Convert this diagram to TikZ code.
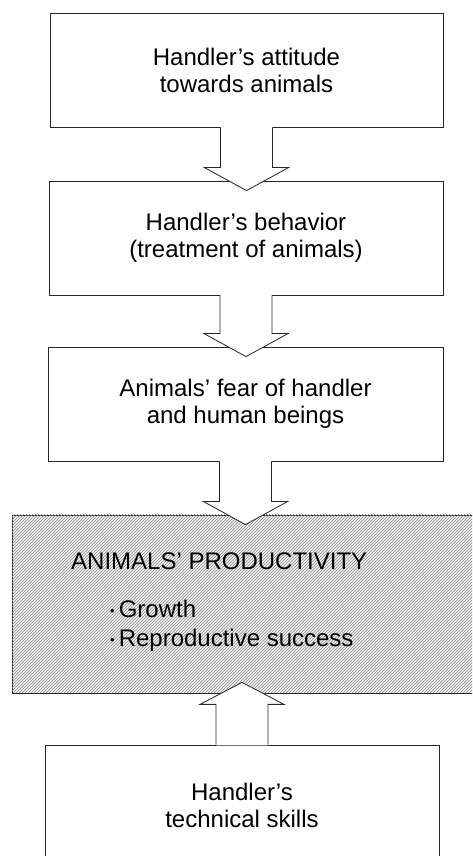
\documentclass[tikz,border=0pt]{standalone}
\usepackage{fontspec}
\setmainfont{Liberation Sans}
\usetikzlibrary{calc,patterns}
\tikzset{
  flowbox/.style={draw=black!85, line width=0.8pt, inner sep=0pt, align=center,
    minimum height=114pt, font=\fontsize{24}{27}\selectfont},
  hatchbox/.style={draw=black!85, line width=0.8pt, inner sep=0pt,
    fill=gray!12, postaction={pattern=north east lines, pattern color=black!45}},
  boxtext/.style={inner sep=0pt, anchor=base west, font=\fontsize{24}{27}\selectfont},
  arrowline/.style={draw=black!85, line width=0.8pt, line join=miter},
}
\newcommand{\smallbul}{\raisebox{2pt}{\fontsize{13}{13}\selectfont •}\hspace{4pt}}
\newcommand{\blkdown}[2]{%
  \fill[white] let \p1=(#1.south), \p2=(#2.north) in
    (\x1-26pt,\y1+0.8pt) -- (\x1-26pt,\y2+13pt) -- (\x1-42pt,\y2+13pt) -- (\x1,\y2-10pt)
    -- (\x1+42pt,\y2+13pt) -- (\x1+26pt,\y2+13pt) -- (\x1+26pt,\y1+0.8pt) -- cycle;
  \draw[arrowline] let \p1=(#1.south), \p2=(#2.north) in
    (\x1-26pt,\y1) -- (\x1-26pt,\y2+13pt) -- (\x1-42pt,\y2+13pt) -- (\x1,\y2-10pt)
    -- (\x1+42pt,\y2+13pt) -- (\x1+26pt,\y2+13pt) -- (\x1+26pt,\y1);
}
\newcommand{\blkup}[2]{%
  \fill[white] let \p1=(#1.north), \p2=(#2.south) in
    (\x1-26pt,\y1-0.8pt) -- (\x1-26pt,\y2-11pt) -- (\x1-42pt,\y2-11pt) -- (\x1,\y2+11pt)
    -- (\x1+42pt,\y2-11pt) -- (\x1+26pt,\y2-11pt) -- (\x1+26pt,\y1-0.8pt) -- cycle;
  \draw[arrowline] let \p1=(#1.north), \p2=(#2.south) in
    (\x1-26pt,\y1) -- (\x1-26pt,\y2-11pt) -- (\x1-42pt,\y2-11pt) -- (\x1,\y2+11pt)
    -- (\x1+42pt,\y2-11pt) -- (\x1+26pt,\y2-11pt) -- (\x1+26pt,\y1);
}
\begin{document}
\begin{tikzpicture}[x=1pt,y=1pt]
\useasboundingbox (0,0) rectangle (472,856);
\clip (0,0) rectangle (472,856);
\fill[white] (0,0) rectangle (472,856);

\node[flowbox, minimum width=393pt] (b1) at (246.5,786) {Handler’s attitude\\towards animals};
\node[flowbox, minimum width=394pt] (b2) at (246,618) {Handler’s behavior\\(treatment of animals)};
\node[flowbox, minimum width=395pt] (b3) at (245.5,452) {Animals’ fear of handler\\and human beings};
\node[hatchbox, minimum width=462pt, minimum height=178pt] (b4) at (243,252) {};
\node[flowbox, minimum width=394pt, minimum height=121pt] (b5) at (242,50.5) {Handler’s\\technical skills};

\node[boxtext] (t4) at (71,286) {ANIMALS’ PRODUCTIVITY};
\node[boxtext] (g4) at (110,238) {\smallbul Growth};
\node[boxtext] (r4) at (110,209) {\smallbul Reproductive success};

\blkdown{b1}{b2}
\blkdown{b2}{b3}
\blkdown{b3}{b4}
\blkup{b5}{b4}
\end{tikzpicture}
\end{document}
